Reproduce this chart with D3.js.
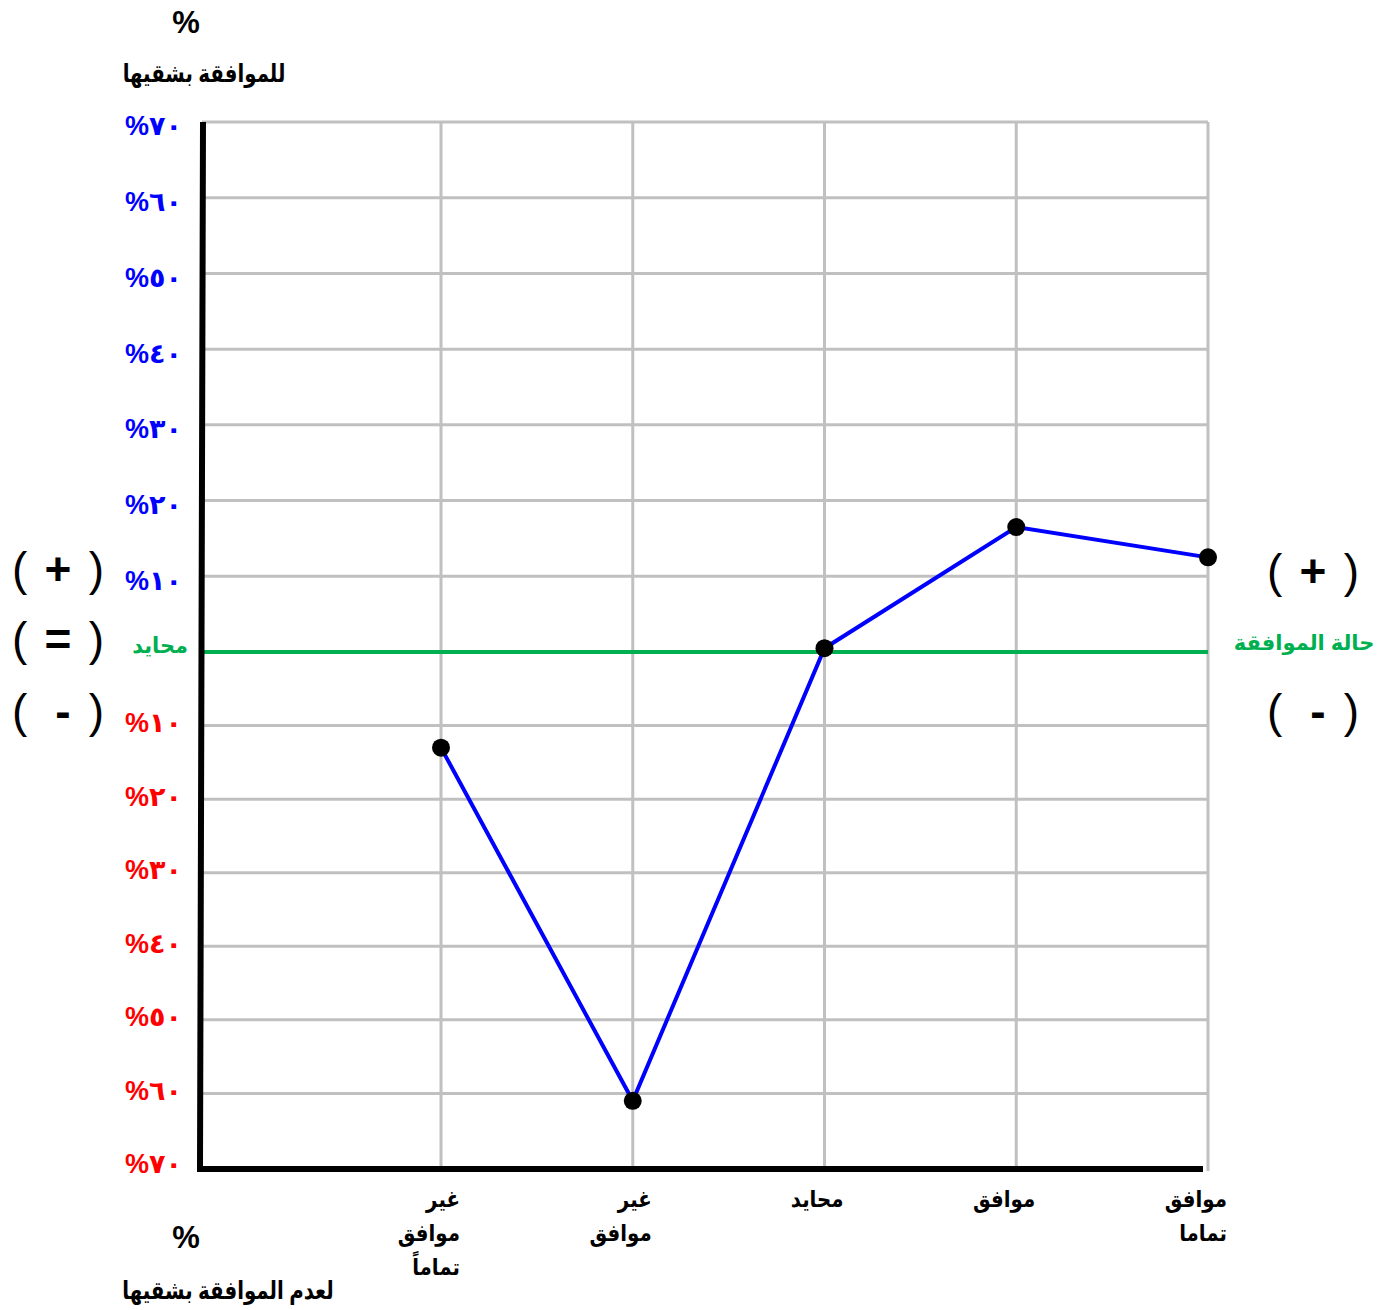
<!DOCTYPE html>
<html>
<head>
<meta charset="utf-8">
<script src="https://cdn.jsdelivr.net/npm/d3@7"></script>
<style>
  html, body { margin: 0; padding: 0; background: #fff; }
  svg { display: block; }
  text { font-family: "Liberation Sans", Arial, "DejaVu Sans", sans-serif; }
</style>
</head>
<body>
<svg id="chart" width="1386" height="1310"></svg>
<script>
// Answer categories (x axis), each split into display lines
const categories = ["غير موافق تماماً", "غير موافق", "محايد", "موافق", "موافق تماما"];
const categoryLines = [["غير", "موافق", "تماماً"], ["غير", "موافق"], ["محايد"], ["موافق"], ["موافق", "تماما"]];

// Net agreement percentage per category (+ agree, - disagree)
const values = [-13, -61, 0.5, 16.5, 12.5];

// Y ticks and their labels
const tickValues = [70, 60, 50, 40, 30, 20, 10, 0, -10, -20, -30, -40, -50, -60, -70];
const tickLabels = ["%٧٠", "%٦٠", "%٥٠", "%٤٠", "%٣٠", "%٢٠", "%١٠", "محايد",
                    "%١٠", "%٢٠", "%٣٠", "%٤٠", "%٥٠", "%٦٠", "%٧٠"];

const svg = d3.select("#chart");

const x = d3.scalePoint().domain(categories).range([441, 1208]);
const y = d3.scaleLinear().domain([-70, 0, 70]).range([1167, 652, 122]);

const axisX = 202, rightX = 1208;

// narrow the Arabic runs a little so they keep their height but take less width
function squeeze(sel, k) {
  sel.each(function () {
    const w = this.getComputedTextLength();
    d3.select(this).attr("textLength", w * k).attr("lengthAdjust", "spacingAndGlyphs");
  });
}

// grid
const grid = svg.append("g").attr("stroke", "#c0c0c0").attr("stroke-width", 3);
grid.selectAll("line.h").data(tickValues.filter(v => v !== 0 && v !== -70)).join("line")
  .attr("x1", axisX).attr("x2", rightX)
  .attr("y1", d => y(d)).attr("y2", d => y(d));
grid.selectAll("line.v").data(categories).join("line")
  .attr("x1", d => x(d)).attr("x2", d => x(d))
  .attr("y1", y(70)).attr("y2", y(-70) + 4);

// neutral line
svg.append("line")
  .attr("x1", axisX).attr("x2", rightX)
  .attr("y1", y(0)).attr("y2", y(0))
  .attr("stroke", "#00b050").attr("stroke-width", 4);

// axes
svg.append("path")
  .attr("d", `M${axisX + 1},${y(70)} L${axisX - 2},${y(-70) + 2} L1203,${y(-70) + 2}`)
  .attr("fill", "none").attr("stroke", "#000").attr("stroke-width", 6)
  .attr("stroke-linejoin", "miter");

// y tick labels
const yl = svg.append("g").selectAll("text").data(tickValues).join("text")
  .attr("x", d => d === 0 ? 188 : 182)
  .attr("y", d => y(d) + (d === 0 ? -7 : d > 0 ? 4 : -3))
  .attr("dy", "0.35em")
  .attr("text-anchor", "end")
  .attr("font-weight", "bold")
  .attr("font-size", d => d === 0 ? 22 : 27)
  .attr("fill", d => d > 0 ? "#0000ff" : d < 0 ? "#ff0000" : "#00b050")
  .text((d, i) => tickLabels[i]);
squeeze(yl.filter(d => d === 0), 0.95);

// x category labels, one text per line, right-aligned under each category
const xg = svg.append("g")
  .attr("text-anchor", "end").attr("font-weight", "bold").attr("font-size", 23);
categories.forEach((c, i) => {
  categoryLines[i].forEach((line, j) => {
    const t = xg.append("text")
      .attr("x", x(c) + 19).attr("y", 1207 + j * 34)
      .text(line);
    squeeze(t, 0.86);
  });
});

// data line and points
svg.append("path")
  .datum(values)
  .attr("d", d3.line().x((d, i) => x(categories[i])).y(d => y(d)))
  .attr("fill", "none").attr("stroke", "#0000ff").attr("stroke-width", 4);
svg.append("g").selectAll("circle").data(values).join("circle")
  .attr("cx", (d, i) => x(categories[i])).attr("cy", d => y(d))
  .attr("r", 9).attr("fill", "#000");

// axis titles
function label(tx, ty, txt, size, color, k) {
  const t = svg.append("text").attr("x", tx).attr("y", ty).attr("dy", "0.35em")
    .attr("text-anchor", "middle").attr("font-weight", "bold")
    .attr("font-size", size).attr("fill", color || "#000").text(txt);
  if (k) squeeze(t, k);
  return t;
}
label(186, 22, "%", 31);
label(204, 73, "للموافقة بشقيها", 25, "#000", 0.79);
label(186, 1237, "%", 31);
label(228, 1290, "لعدم الموافقة بشقيها", 25, "#000", 0.79);
label(1304, 643, "حالة الموافقة", 21, "#00b050");

// sign markers ( + ) ( = ) ( - )
function sign(cx, cy, s, dxSign) {
  const g = svg.append("g").attr("font-size", 46).attr("fill", "#000");
  g.append("text").attr("x", cx - 46).attr("y", cy).attr("dy", "0.33em").attr("text-anchor", "start").text("(");
  g.append("text").attr("x", cx + 46).attr("y", cy).attr("dy", "0.33em").attr("text-anchor", "end").text(")");
  g.append("text").attr("x", cx + (dxSign || 0)).attr("y", cy).attr("dy", "0.33em").attr("text-anchor", "middle")
    .attr("font-weight", "bold").text(s);
}
sign(58, 570, "+");
sign(58, 640, "=");
sign(58, 712, "-", 5);
sign(1313, 572, "+");
sign(1313, 712, "-", 5);
</script>
</body>
</html>
